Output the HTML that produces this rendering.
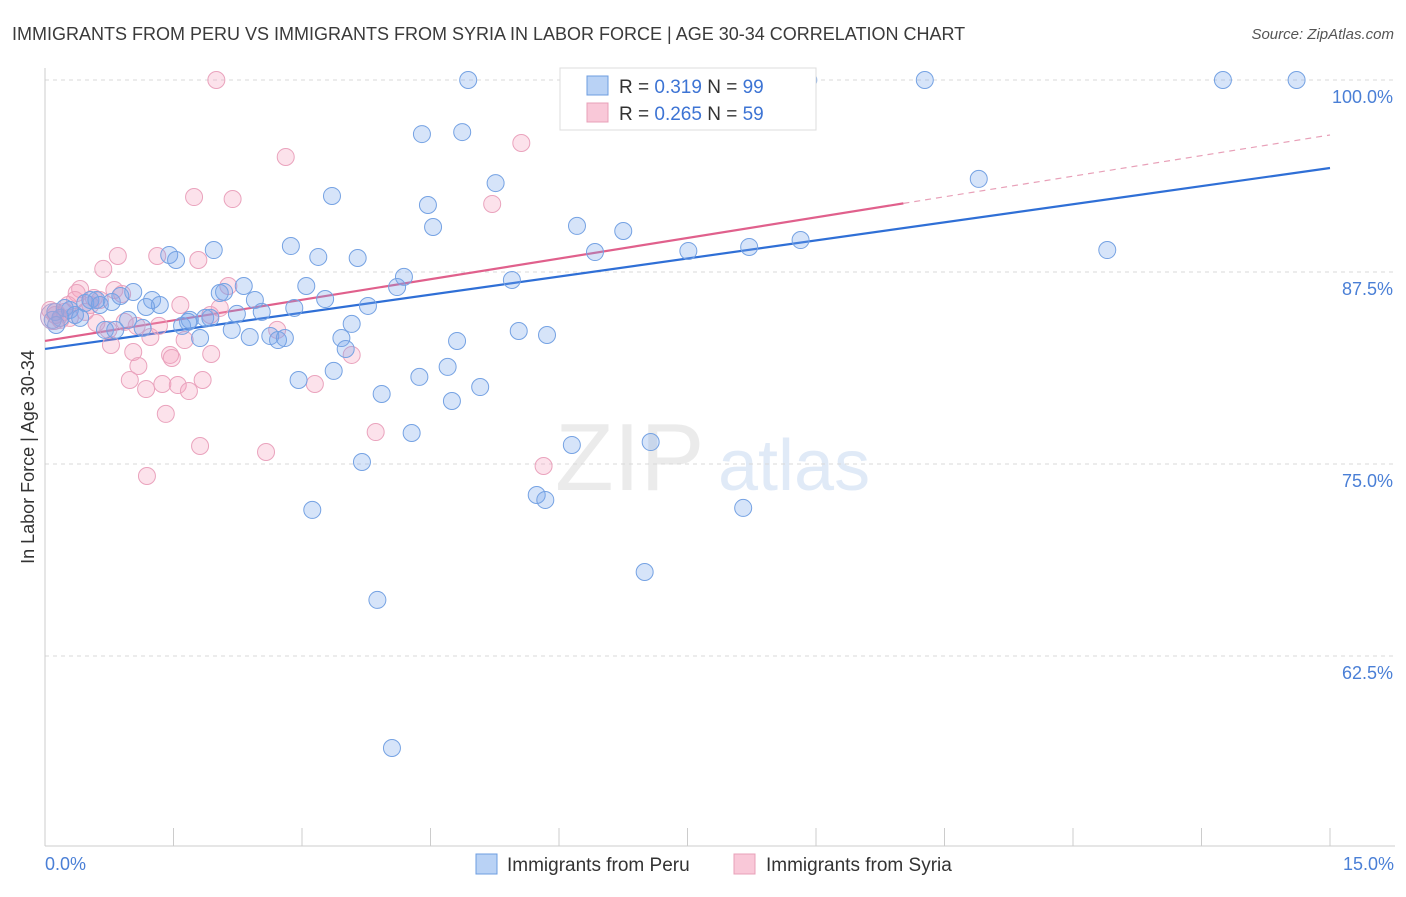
<!DOCTYPE html>
<html><head><meta charset="utf-8"><style>
body{margin:0;background:#fff;font-family:"Liberation Sans",sans-serif;}
svg text{font-family:"Liberation Sans",sans-serif;}
</style></head><body>
<svg id="chart" width="1406" height="892" xmlns="http://www.w3.org/2000/svg">
<text x="12" y="40" font-size="18" fill="#3a3a3a">IMMIGRANTS FROM PERU VS IMMIGRANTS FROM SYRIA IN LABOR FORCE | AGE 30-34 CORRELATION CHART</text>
<text x="1394" y="39" font-size="15" fill="#555" text-anchor="end" font-style="italic">Source: ZipAtlas.com</text>
<text transform="translate(34,457) rotate(-90)" font-size="18" fill="#333" text-anchor="middle">In Labor Force | Age 30-34</text>
<g opacity="0.35">
<text x="555" y="490" font-size="96" fill="#c8c8c8" font-family="Liberation Serif">ZIP</text>
<text x="718" y="490" font-size="72" fill="#a9c4ea">atlas</text>
</g>
<g id="grid"></g><g id="axes"></g><g id="lines"></g><g id="points"></g>
<g>
<rect x="560" y="68" width="256" height="62" fill="#fff" stroke="#ddd"/>
<rect x="587" y="76" width="21" height="19" fill="#b9d2f5" stroke="#6d9de0"/>
<text x="619" y="93" font-size="19" fill="#333">R = <tspan fill="#3d74d4">0.319</tspan>   N = <tspan fill="#3d74d4">99</tspan></text>
<rect x="587" y="103" width="21" height="19" fill="#f9c8d8" stroke="#e8a0b8"/>
<text x="619" y="120" font-size="19" fill="#333">R = <tspan fill="#3d74d4">0.265</tspan>   N = <tspan fill="#3d74d4">59</tspan></text>
</g>
<g>
<rect x="476" y="854" width="21" height="20" fill="#b9d2f5" stroke="#6d9de0"/>
<text x="507" y="871" font-size="19" fill="#333">Immigrants from Peru</text>
<rect x="734" y="854" width="21" height="20" fill="#f9c8d8" stroke="#e8a0b8"/>
<text x="766" y="871" font-size="19" fill="#333">Immigrants from Syria</text>
</g>
</svg>
<script>
const yTicks=[100,87.5,75,62.5];
const yTickLabels=["100.0%","87.5%","75.0%","62.5%"];
const xTickCount=10;
const xLabels=["0.0%","15.0%"];
const peruX=[4.94,6.83,7.96,8.91,10.27,13.75,14.61,4.40,4.87,3.35,5.26,4.47,4.53,6.21,6.75,10.90,12.40,8.82,8.22,7.51,6.42,1.97,2.87,3.19,3.65,1.45,1.53,4.19,5.45,4.11,3.05,2.32,2.09,2.04,2.45,2.91,3.27,3.77,2.53,3.58,3.46,3.51,5.53,5.86,4.81,3.37,2.96,4.37,4.70,3.93,5.08,4.75,4.28,3.70,6.15,7.07,5.74,5.84,8.15,3.12,7.00,3.88,4.05,0.18,0.29,0.35,0.47,0.53,0.60,0.64,0.78,0.88,1.03,0.97,1.14,1.25,1.34,1.18,1.60,1.67,1.81,1.87,1.93,2.18,2.39,2.63,2.72,2.80,0.09,0.12,0.23,0.70,1.69,2.24,0.41,0.82,0.13];
const peruY=[100,100,100,100,100,100,100,96.48,96.61,92.45,93.29,91.86,90.43,90.50,90.17,93.56,88.93,89.58,89.13,88.87,88.80,88.93,89.19,88.48,88.41,88.61,88.28,87.18,86.98,86.52,86.59,86.59,86.20,86.13,85.68,85.16,85.74,85.29,84.90,84.12,83.20,82.49,83.66,83.40,83.01,81.06,80.47,80.67,81.32,79.56,80.01,79.10,77.02,75.13,76.24,76.43,72.98,72.66,72.14,72.01,67.97,66.15,56.51,84.51,85.03,84.70,85.48,85.68,85.68,85.35,85.55,85.94,86.20,84.38,83.86,85.68,85.35,85.22,83.99,84.25,83.20,84.51,84.51,83.73,83.27,83.33,83.07,83.20,84.38,84.90,85.16,83.73,84.38,84.77,84.51,83.73,84.05];
const syriaX=[2.00,2.81,5.56,5.22,1.74,2.19,0.85,0.68,1.31,1.79,2.14,0.41,0.37,0.57,0.81,0.90,1.58,1.93,2.04,2.71,0.60,0.74,0.93,1.07,1.23,1.33,1.63,1.03,0.77,1.46,1.48,1.94,3.58,1.09,0.99,1.37,1.18,1.55,1.68,1.84,3.15,1.41,1.81,2.58,3.86,5.82,1.19,0.06,0.12,0.18,0.23,0.29,0.47,0.53,0.64,0.35,0.27];
const syriaY=[100,94.99,95.90,91.93,92.38,92.25,88.54,87.70,88.54,88.28,86.59,86.39,86.13,85.81,86.33,86.07,85.35,84.70,85.16,83.73,84.18,83.73,84.25,83.99,83.27,83.99,83.07,82.29,82.75,82.10,81.90,82.16,82.10,81.38,80.47,80.21,79.88,80.14,79.75,80.47,80.21,78.26,76.17,75.78,77.08,74.87,74.22,85.03,84.70,84.38,84.90,84.51,84.90,85.35,85.68,85.68,85.35];
const peruTrend=[82.49,94.27];
const syriaTrend=[83.01,96.42];
const syriaSolidEnd=10.02;

const NS="http://www.w3.org/2000/svg";
const X0=45,X1=1330,Y100=80,PXPER=192/12.5;
function sx(v){return X0+(X1-X0)*v/15;}
function sy(v){return Y100+(100-v)*PXPER;}
function mk(tag,attrs,parent){const e=document.createElementNS(NS,tag);for(const k in attrs)e.setAttribute(k,attrs[k]);parent.appendChild(e);return e;}
const grid=document.getElementById('grid'),axes=document.getElementById('axes'),lines=document.getElementById('lines'),pts=document.getElementById('points');
yTicks.forEach((t,i)=>{
 const l=mk('line',{x1:X0,x2:1395,y1:sy(t),y2:sy(t),stroke:'#d8d8d8','stroke-dasharray':'4,4'},grid);
 
 
 const tx=mk('text',{x:1393,y:sy(t)+23,'font-size':18,fill:'#4a7fd6','text-anchor':'end'},axes);
 tx.textContent=yTickLabels[i];
 
 
});
const yAxis=mk('line',{x1:X0,x2:X0,y1:68,y2:846,stroke:'#ccc'},axes);


const xAxis=mk('line',{x1:X0,x2:1395,y1:846,y2:846,stroke:'#ccc'},axes);


for(let i=1;i<=xTickCount;i++){
 const t=mk('line',{x1:sx(i*1.5),x2:sx(i*1.5),y1:828,y2:846,stroke:'#ccc'},axes);
 
 
}
const xl0=mk('text',{x:45,y:870,'font-size':18,fill:'#4a7fd6'},axes);xl0.textContent=xLabels[0];


const xl1=mk('text',{x:1394,y:870,'font-size':18,fill:'#4a7fd6','text-anchor':'end'},axes);xl1.textContent=xLabels[1];



function dots(xs,ys,fill,stroke,name){
 xs.forEach((x,i)=>{
  const c=mk('circle',{cx:sx(x),cy:sy(ys[i]),r:8.5,fill:fill,stroke:stroke,'stroke-width':1},pts);
  
  
 });
}
dots(syriaX,syriaY,'rgba(244,160,190,0.3)','#eaa3bd','point-syria');
dots(peruX,peruY,'rgba(120,165,235,0.3)','#75a2e3','point-peru');
const big=mk('circle',{cx:sx(0.1),cy:sy(84.6),r:13,fill:'rgba(200,160,200,0.35)',stroke:'#b9a3d0'},pts);



function trendY(tr,x){return tr[0]+(tr[1]-tr[0])*x/15;}
const pl=mk('line',{x1:sx(0),y1:sy(trendY(peruTrend,0)),x2:sx(15),y2:sy(trendY(peruTrend,15)),stroke:'#2f6fd6','stroke-width':2.2},lines);


const sl=mk('line',{x1:sx(0),y1:sy(trendY(syriaTrend,0)),x2:sx(syriaSolidEnd),y2:sy(trendY(syriaTrend,syriaSolidEnd)),stroke:'#e0608c','stroke-width':2.2},lines);


const sd=mk('line',{x1:sx(syriaSolidEnd),y1:sy(trendY(syriaTrend,syriaSolidEnd)),x2:sx(15),y2:sy(trendY(syriaTrend,15)),stroke:'#e8a0b8','stroke-width':1.2,'stroke-dasharray':'6,5'},lines);


</script>
</body></html>
